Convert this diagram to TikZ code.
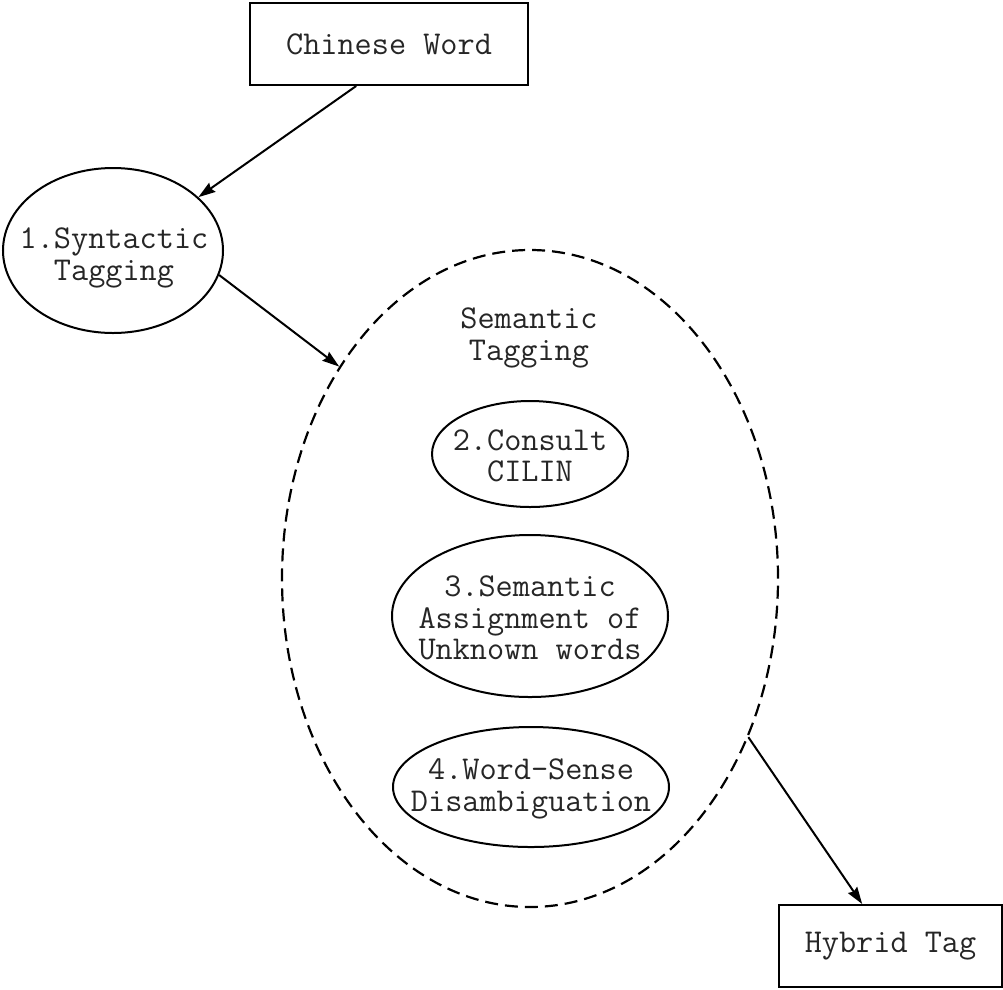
\documentclass[tikz,border=0pt]{standalone}
\usepackage{fontspec}
\usetikzlibrary{shapes.geometric,arrows.meta}
\begin{document}
\begin{tikzpicture}[x=1pt,y=-1pt,
  txt/.style={font=\ttfamily\fontsize{33.3}{31.5}\selectfont, align=center, inner sep=0pt, text=black!85},
  box/.style={txt, draw, line width=2pt, inner sep=0pt},
  ell/.style={draw, ellipse, line width=2pt, inner sep=0pt},
  dashell/.style={draw, ellipse, line width=2.2pt, dash pattern=on 13pt off 7pt, inner sep=0pt},
  arr/.style={line width=2pt, -{Stealth[length=17pt,width=11pt,inset=2pt]}}
]
\useasboundingbox (0,0) rectangle (1003,989);
\fill[white] (0,0) rectangle (1003,989);

\node[box, minimum width=278pt, minimum height=82pt] (cw) at (389,44) {Chinese Word};
\node[ell, minimum width=220pt, minimum height=165pt] (syn) at (113,250.5) {};
\node[txt] (synt) at (114,258) {1.Syntactic\\Tagging};

\node[dashell, minimum width=496pt, minimum height=657pt] (sem) at (530,578.5) {};
\node[txt] (semt) at (529,338) {Semantic\\Tagging};

\node[ell, minimum width=196pt, minimum height=106pt] (cil) at (530,454) {};
\node[txt] (cilt) at (530,456) {2.Consult\\CILIN};

\node[ell, minimum width=276pt, minimum height=162pt] (asg) at (530,616) {};
\node[txt] (asgt) at (530,618) {3.Semantic\\Assignment of\\Unknown words};

\node[ell, minimum width=276pt, minimum height=120pt] (wsd) at (531,787) {};
\node[txt] (wsdt) at (531,789) {4.Word-Sense\\Disambiguation};

\node[box, minimum width=223pt, minimum height=82pt] (hyb) at (890.5,946) {Hybrid Tag};

\draw[arr] (cw.232) -- (syn.32.5);
\draw[arr] (syn.-13.9) -- (sem.132);
\draw[arr] (sem.-36.6) -- (hyb.124.8);
\end{tikzpicture}
\end{document}
